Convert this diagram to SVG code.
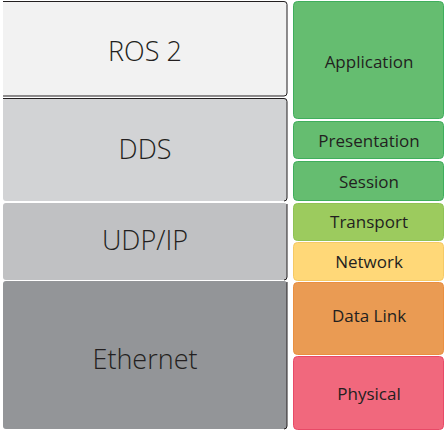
<svg xmlns="http://www.w3.org/2000/svg" width="448" height="432" viewBox="0 0 448 432">
<style>
.edge{fill:none;stroke:#231f20;stroke-width:1}
.big{font-family:"Open Sans","DejaVu Sans",sans-serif;font-weight:300;font-size:27px;fill:#231f20;text-anchor:middle}
.lbl{font-family:"Open Sans","DejaVu Sans",sans-serif;font-size:17px;fill:#231f20;text-anchor:middle}
.osi{stroke-width:1}
</style>
<rect width="448" height="432" fill="#ffffff"/>
<g id="ros2">
<rect x="3" y="1" width="284" height="95" rx="3" fill="#f2f2f2"/>
<path class="edge" d="M3 1.5H284a3 3 0 0 1 3 3V93a3 3 0 0 1-3 3H3"/>
<text class="big" x="145" y="61">ROS 2</text>
</g>
<g id="dds">
<rect x="3" y="98" width="284" height="103" rx="3" fill="#d2d3d5"/>
<path class="edge" d="M3 98.5H284a3 3 0 0 1 3 3V198a3 3 0 0 1-3 3"/>
<text class="big" x="145" y="159">DDS</text>
</g>
<g id="udpip">
<rect x="3" y="203" width="284" height="77" rx="3" fill="#c0c1c3"/>
<path class="edge" d="M287 204V277a3 3 0 0 1-3 3"/>
<text class="big" x="145" y="250">UDP/IP</text>
</g>
<g id="ethernet">
<rect x="3" y="281" width="284" height="148" rx="3" fill="#939598"/>
<path class="edge" d="M287 282V426a3 3 0 0 1-3 3"/>
<text class="big" x="145" y="369">Ethernet</text>
</g>
<g id="application">
<rect class="osi" x="293.5" y="1.5" width="150" height="117" rx="4" fill="#65bd70" stroke="#3fae5c"/>
<text class="lbl" x="369" y="68">Application</text>
</g>
<g id="presentation">
<rect class="osi" x="293.5" y="121.5" width="150" height="37" rx="4" fill="#65bd70" stroke="#3fae5c"/>
<text class="lbl" x="369" y="146.5">Presentation</text>
</g>
<g id="session">
<rect class="osi" x="293.5" y="161.5" width="150" height="39" rx="4" fill="#65bd70" stroke="#3fae5c"/>
<text class="lbl" x="369" y="187.5">Session</text>
</g>
<g id="transport">
<rect class="osi" x="293.5" y="203.5" width="150" height="37" rx="4" fill="#9ccb5e" stroke="#8fc255"/>
<text class="lbl" x="369" y="228">Transport</text>
</g>
<g id="network">
<rect class="osi" x="293.5" y="242.5" width="150" height="38" rx="4" fill="#ffd878" stroke="#f5c965"/>
<text class="lbl" x="369" y="267.5">Network</text>
</g>
<g id="datalink">
<rect class="osi" x="293.5" y="282.5" width="150" height="72" rx="4" fill="#ea9b53" stroke="#e98f40"/>
<text class="lbl" x="369" y="322">Data Link</text>
</g>
<g id="physical">
<rect class="osi" x="293.5" y="356.5" width="150" height="73" rx="4" fill="#f1687d" stroke="#e84a67"/>
<text class="lbl" x="369" y="400">Physical</text>
</g>
<g id="connectors"></g>
</svg>
